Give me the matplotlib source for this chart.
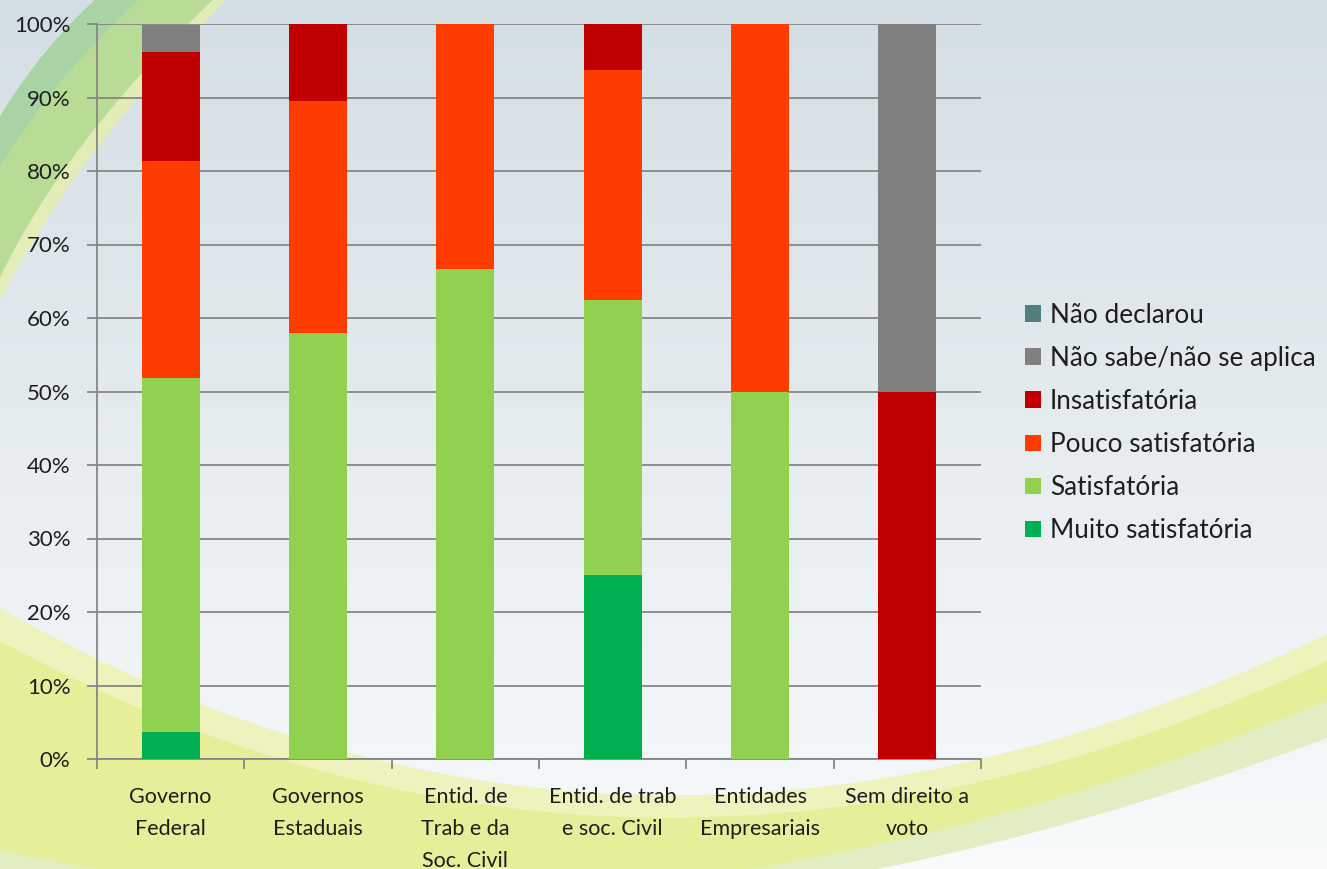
import numpy as np
import matplotlib
matplotlib.use("Agg")
import matplotlib.pyplot as plt
from matplotlib.patches import Polygon, Patch

plt.rcParams['font.family'] = ['Lato', 'DejaVu Sans']

categories = ["Governo\nFederal", "Governos\nEstaduais", "Entid. de\nTrab e da\nSoc. Civil",
              "Entid. de trab\ne soc. Civil", "Entidades\nEmpresariais", "Sem direito a\nvoto"]
series_names = ["Muito satisfatória", "Satisfatória", "Pouco satisfatória",
                "Insatisfatória", "Não sabe/não se aplica", "Não declarou"]
muito       = [3.7, 0.0, 0.0, 25.0, 0.0, 0.0]
satisf      = [48.1, 57.9, 66.7, 37.5, 50.0, 0.0]
pouco       = [29.6, 31.6, 33.3, 31.25, 50.0, 0.0]
insat       = [14.8, 10.5, 0.0, 6.25, 0.0, 50.0]
nao_sabe    = [3.7, 0.0, 0.0, 0.0, 0.0, 50.0]
nao_decl    = [0.0, 0.0, 0.0, 0.0, 0.0, 0.0]
colors = ["#00B050", "#92D050", "#FF3C00", "#C00000", "#808080", "#4F8080"]
yticks = [0, 10, 20, 30, 40, 50, 60, 70, 80, 90, 100]

W, H = 1327, 869
fig = plt.figure(figsize=(W / 100, H / 100), dpi=100)

# ---- decorative background ----
bg = fig.add_axes([0, 0, 1, 1], zorder=-10)
bg.set_xlim(0, W)
bg.set_ylim(H, 0)
bg.axis("off")
grad = np.linspace(0, 1, 256)[:, None]
c0 = np.array([0xD3, 0xDE, 0xE4]) / 255
c1 = np.array([0xF8, 0xFA, 0xFB]) / 255
img = c0[None, None, :] * (1 - grad[..., None]) + c1[None, None, :] * grad[..., None]
img = np.repeat(img, 2, axis=1)
bg.imshow(img, extent=[0, W, H, 0], aspect="auto", zorder=0)


def bez(p0, p1, p2, n=200):
    t = np.linspace(0, 1, n)[:, None]
    p0, p1, p2 = map(np.array, (p0, p1, p2))
    return (1 - t) ** 2 * p0 + 2 * (1 - t) * t * p1 + t ** 2 * p2


def band(edge_a, edge_b, fc, alpha=1.0):
    pts = np.vstack([edge_a, edge_b[::-1]])
    bg.add_patch(Polygon(pts, closed=True, fc=fc, ec="none", alpha=alpha, zorder=1))


# top-left green swoosh
o = bez((97, -2), (38, 52), (-2, 120))
m = bez((140, -2), (52, 80), (-2, 170))
i = bez((215, -2), (62, 145), (-2, 282))
r = bez((228, -2), (70, 160), (-2, 305))
band(o, i, "#B8DC95")
band(o, m, "#A6D2A8", 0.85)
band(i, r, "#E3EEB2", 0.9)

# bottom yellow swoosh
U = bez((-2, 607), (636, 970), (1329, 633))
U2 = bez((-2, 640), (636, 985), (1329, 660))
L2 = bez((-2, 850), (636, 990), (1329, 700))
L = bez((-2, 880), (636, 1000), (1329, 737))
band(U, L, "#EEF3BE")
band(U2, L2, "#E6EE98", 0.95)
band(L2, L, "#DDECC4", 0.75)

# ---- chart ----
ax = fig.add_axes([97 / W, 1 - 759 / H, (981 - 97) / W, (759 - 24) / H])
ax.patch.set_alpha(0)
x = np.arange(len(categories))
data = [muito, satisf, pouco, insat, nao_sabe, nao_decl]
bottom = np.zeros(len(categories))
for vals, name, col in zip(data, series_names, colors):
    ax.bar(x, vals, width=0.394, bottom=bottom, color=col, label=name, zorder=3)
    bottom += np.array(vals)

ax.set_xlim(-0.5, len(categories) - 0.5)
ax.set_ylim(0, 100)
ax.set_yticks(yticks)
ax.set_yticklabels([f"{v}%" for v in yticks])
ax.yaxis.grid(True, color="#868686", linewidth=1.3, zorder=0)
ax.set_axisbelow(True)
gcol = "#868686"
for s in ["top", "right"]:
    ax.spines[s].set_visible(False)
for s in ["left", "bottom"]:
    ax.spines[s].set_color(gcol)
    ax.spines[s].set_linewidth(1.3)
ax.tick_params(axis="y", length=7, width=1.3, color=gcol, pad=12, labelsize=16, labelcolor="#1E1E1E")
ax.set_xticks(x)
ax.set_xticklabels(categories, fontsize=15.5, color="#1E1E1E", linespacing=1.75, va="top")
ax.tick_params(axis="x", length=0, pad=20)
ax.set_xticks(np.arange(len(categories) + 1) - 0.5, minor=True)
ax.tick_params(axis="x", which="minor", length=7, width=1.3, color=gcol)

handles = [Patch(facecolor=c, edgecolor="none") for c in colors][::-1]
labels = series_names[::-1]
fig.legend(handles, labels, loc="center left", bbox_to_anchor=(1025 / W, 1 - 423 / H),
           frameon=False, fontsize=18.8, handlelength=0.6, handleheight=0.6,
           handletextpad=0.35, labelspacing=0.69, borderpad=0, borderaxespad=0,
           labelcolor="#1E1E1E")

fig.savefig("out.png", dpi=100)
